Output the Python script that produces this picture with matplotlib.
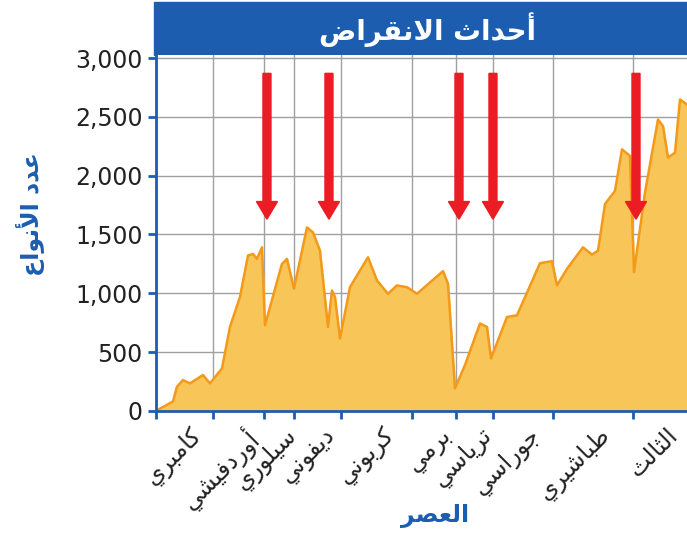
import matplotlib
matplotlib.use("Agg")
import matplotlib.pyplot as plt
from matplotlib.patches import Rectangle

# time axis runs in chart units (0 = start of the Cambrian)
period_edges = [0, 57, 108, 138, 185, 256, 300, 337, 397, 477]
period_names = ["كامبري", "أوردفيشي", "سيلوري", "ديفوني", "كربوني",
                "برمي", "ترياسي", "جوراسي", "طباشيري", "الثالث"]
x_end = 531

time = [0, 17, 21, 27, 34, 47, 54, 66, 74, 84, 92, 97, 101, 106, 109, 126, 131,
        138, 151, 157, 164, 172, 176, 179, 184, 194, 212, 221, 232, 241, 251,
        261, 287, 292, 299, 309, 324, 331, 335, 351, 361, 372, 384, 396, 401,
        411, 427, 436, 442, 449, 459, 466, 474, 478, 489, 502, 507, 512, 519,
        524, 531]
species = [0, 80, 205, 262, 234, 305, 234, 361, 714, 968, 1321, 1335, 1293,
           1391, 728, 1250, 1293, 1039, 1560, 1518, 1363, 714, 1024, 968, 615,
           1052, 1306, 1109, 996, 1067, 1052, 996, 1188, 1081, 192, 390, 743,
           714, 446, 798, 813, 1024, 1256, 1273, 1067, 1208, 1391, 1329, 1363,
           1759, 1871, 2224, 2168, 1180, 1857, 2478, 2422, 2154, 2196, 2648, 2605]

extinctions = [111, 173, 303, 337, 480]

# letter -> (isolated, final, initial, medial); two forms = joins right only
forms = {
    "ا": "\uFE8D\uFE8E", "أ": "\uFE83\uFE84", "د": "\uFEA9\uFEAA",
    "ر": "\uFEAD\uFEAE", "و": "\uFEED\uFEEE",
    "ب": "\uFE8F\uFE90\uFE91\uFE92", "ت": "\uFE95\uFE96\uFE97\uFE98",
    "ث": "\uFE99\uFE9A\uFE9B\uFE9C", "ج": "\uFE9D\uFE9E\uFE9F\uFEA0",
    "ح": "\uFEA1\uFEA2\uFEA3\uFEA4", "س": "\uFEB1\uFEB2\uFEB3\uFEB4",
    "ش": "\uFEB5\uFEB6\uFEB7\uFEB8", "ص": "\uFEB9\uFEBA\uFEBB\uFEBC",
    "ض": "\uFEBD\uFEBE\uFEBF\uFEC0", "ط": "\uFEC1\uFEC2\uFEC3\uFEC4",
    "ع": "\uFEC9\uFECA\uFECB\uFECC", "ف": "\uFED1\uFED2\uFED3\uFED4",
    "ق": "\uFED5\uFED6\uFED7\uFED8", "ك": "\uFED9\uFEDA\uFEDB\uFEDC",
    "ل": "\uFEDD\uFEDE\uFEDF\uFEE0", "م": "\uFEE1\uFEE2\uFEE3\uFEE4",
    "ن": "\uFEE5\uFEE6\uFEE7\uFEE8", "ي": "\uFEF1\uFEF2\uFEF3\uFEF4",
}
lam_alef = {"ا": "\uFEFB\uFEFC", "أ": "\uFEF7\uFEF8"}


def shape(word):
    # join arabic letters and put them in visual order for matplotlib
    out = []
    prev_joins = False
    i = 0
    while i < len(word):
        c = word[i]
        if c == " ":
            out.append(c)
            prev_joins = False
            i += 1
            continue
        if c == "ل" and i + 1 < len(word) and word[i + 1] in lam_alef:
            out.append(lam_alef[word[i + 1]][1 if prev_joins else 0])
            prev_joins = False
            i += 2
            continue
        f = forms[c]
        nxt = word[i + 1] if i + 1 < len(word) else " "
        next_ok = nxt in forms and len(f) == 4
        if prev_joins and next_ok:
            out.append(f[3])
        elif prev_joins:
            out.append(f[1])
        elif next_ok:
            out.append(f[2])
        else:
            out.append(f[0])
        prev_joins = len(f) == 4
        i += 1
    return "".join(reversed(out))


blue = "#1c5db0"
fill = "#f8c658"
line = "#f39a1b"

fig = plt.figure(figsize=(6.87, 5.35), dpi=100)
ax = fig.add_axes([0.227, 0.232, 0.773, 0.666])

ax.fill_between(time, species, color=fill, zorder=2)
ax.plot(time, species, color=line, lw=1.8, zorder=3)

for x in extinctions:
    ax.arrow(x, 2870, 0, -1240, width=8, head_width=21, head_length=150,
             length_includes_head=True, color="#ec1c24", zorder=4)

ax.set_xlim(0, x_end)
ax.set_ylim(0, 3030)
ax.set_yticks([0, 500, 1000, 1500, 2000, 2500, 3000])
ax.set_yticklabels(["0", "500", "1,000", "1,500", "2,000", "2,500", "3,000"],
                   fontsize=17, color="#222222")
ax.set_xticks(period_edges)
ax.set_xticklabels([])
mids = [(a + b) / 2 for a, b in zip(period_edges, period_edges[1:] + [x_end])]
for m, name in zip(mids, period_names):
    ax.annotate(shape(name), (m, 0), xytext=(4, -9), textcoords="offset points",
                rotation=45, ha="right", va="top", rotation_mode="anchor",
                fontsize=17, color="#222222", annotation_clip=False)

ax.grid(True, color="#a0a0a0", lw=1, zorder=1)
ax.tick_params(axis="both", color=blue, width=2, length=6)
for s in ["top", "right"]:
    ax.spines[s].set_visible(False)
for s in ["left", "bottom"]:
    ax.spines[s].set_color(blue)
    ax.spines[s].set_linewidth(2)
    ax.spines[s].set_zorder(5)

# title bar
fig.add_artist(Rectangle((0.224, 0.897), 0.78, 0.1, transform=fig.transFigure,
                         color=blue, zorder=0))
fig.text(0.622, 0.945, shape("أحداث الانقراض"), color="white", fontsize=20,
         fontweight="bold", ha="center", va="center")

fig.text(0.045, 0.6, shape("عدد الأنواع"), color=blue, fontsize=17,
         fontweight="bold", rotation=90, ha="center", va="center")
fig.text(0.633, 0.035, shape("العصر"), color=blue, fontsize=17,
         fontweight="bold", ha="center", va="center")

plt.savefig("out.png", dpi=100)
